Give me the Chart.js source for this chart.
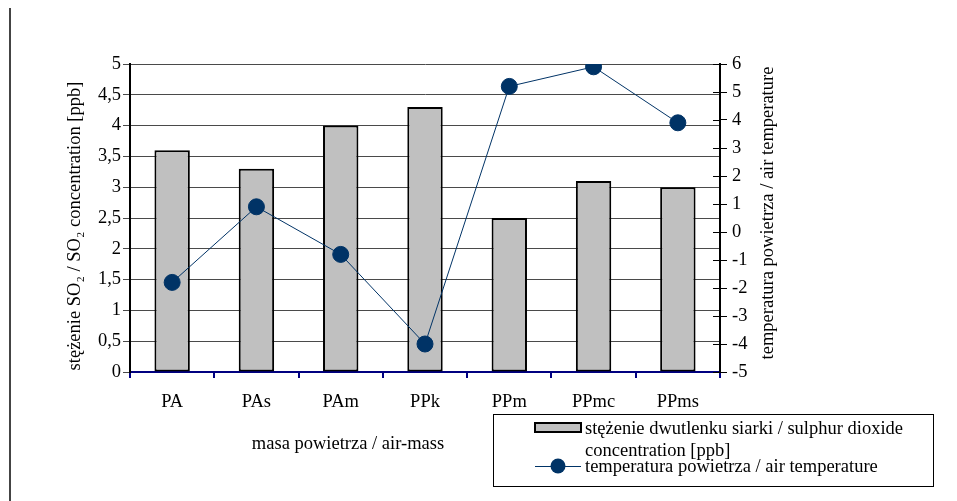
<!DOCTYPE html>
<html>
<head>
<meta charset="utf-8">
<script src="https://cdn.jsdelivr.net/npm/chart.js@4/dist/chart.umd.min.js"></script>
<style>
  html, body { margin: 0; padding: 0; background: #ffffff; }
  #wrap { width: 957px; height: 501px; position: relative; }
</style>
</head>
<body>
<div id="wrap"><canvas id="c" width="957" height="501"></canvas></div>
<script>
const categories = ['PA', 'PAs', 'PAm', 'PPk', 'PPm', 'PPmc', 'PPms'];
const so2Values = [3.6, 3.3, 4.0, 4.3, 2.5, 3.1, 3.0];
const tempValues = [-1.8, 0.9, -0.8, -4.0, 5.2, 5.9, 3.9];
const leftTickLabels = ['0', '0,5', '1', '1,5', '2', '2,5', '3', '3,5', '4', '4,5', '5'];
const rightTickLabels = ['-5', '-4', '-3', '-2', '-1', '0', '1', '2', '3', '4', '5', '6'];
const so2Label = 'stężenie dwutlenku siarki / sulphur dioxide concentration [ppb]';
const so2LegendLines = ['stężenie dwutlenku siarki / sulphur dioxide', 'concentration [ppb]'];
const tempLabel = 'temperatura powietrza / air temperature';
const xTitle = 'masa powietrza / air-mass';
const yTitle = 'stężenie SO₂ / SO₂ concentration [ppb]';
const y1Title = 'temperatura powietrza / air temperature';

const FONT = '"Liberation Serif", "Times New Roman", serif';
const NAVY = '#003366';

const extras = {
  id: 'extras',
  afterDraw(chart) {
    const ctx = chart.ctx;
    const y1 = chart.scales.y1;
    ctx.save();
    // left frame line
    ctx.strokeStyle = '#444444';
    ctx.lineWidth = 2;
    ctx.beginPath();
    ctx.moveTo(10, 8);
    ctx.lineTo(10, 501);
    ctx.stroke();
    // inward ticks on right axis
    ctx.strokeStyle = '#000';
    ctx.lineWidth = 1;
    y1.ticks.forEach(t => {
      const py = Math.round(y1.getPixelForValue(t.value)) + 0.5;
      ctx.beginPath();
      ctx.moveTo(y1.left - 7, py);
      ctx.lineTo(y1.left, py);
      ctx.stroke();
    });
    // axis titles
    ctx.fillStyle = '#000';
    ctx.font = '18.5px ' + FONT;
    ctx.textAlign = 'center';
    ctx.textBaseline = 'middle';
    ctx.fillText(xTitle, 348, 444);
    ctx.save();
    ctx.translate(75, 226);
    ctx.rotate(-Math.PI / 2);
    ctx.fillText(yTitle, 0, 0);
    ctx.restore();
    ctx.save();
    ctx.translate(768, 213);
    ctx.rotate(-Math.PI / 2);
    ctx.fillText(y1Title, 0, 0);
    ctx.restore();
    // legend box
    ctx.strokeStyle = '#000';
    ctx.lineWidth = 1;
    ctx.strokeRect(493.5, 414.5, 440, 72);
    // bar swatch
    ctx.fillStyle = '#c0c0c0';
    ctx.fillRect(535, 423, 46, 9);
    ctx.lineWidth = 2;
    ctx.strokeRect(535, 423, 46, 9);
    // line swatch
    ctx.strokeStyle = NAVY;
    ctx.lineWidth = 1;
    ctx.beginPath();
    ctx.moveTo(535, 466.5);
    ctx.lineTo(581, 466.5);
    ctx.stroke();
    ctx.fillStyle = NAVY;
    ctx.beginPath();
    ctx.arc(558, 466, 7.5, 0, Math.PI * 2);
    ctx.fill();
    // legend texts
    ctx.fillStyle = '#000';
    ctx.textAlign = 'left';
    ctx.fillText(so2LegendLines[0], 585, 429);
    ctx.fillText(so2LegendLines[1], 585, 451);
    ctx.fillText(tempLabel, 585, 467);
    ctx.restore();
  }
};

new Chart(document.getElementById('c'), {
  data: {
    labels: categories,
    datasets: [
      {
        type: 'line',
        label: tempLabel,
        data: tempValues,
        yAxisID: 'y1',
        borderColor: NAVY,
        borderWidth: 1,
        backgroundColor: NAVY,
        pointBackgroundColor: NAVY,
        pointBorderColor: NAVY,
        pointBorderWidth: 1,
        pointRadius: 8,
        tension: 0,
        order: 0
      },
      {
        type: 'bar',
        label: so2Label,
        data: so2Values,
        yAxisID: 'y',
        backgroundColor: '#c0c0c0',
        borderColor: '#000000',
        borderWidth: 2,
        borderSkipped: false,
        categoryPercentage: 1,
        barPercentage: 0.42,
        order: 1
      }
    ]
  },
  options: {
    responsive: false,
    animation: false,
    devicePixelRatio: 1,
    layout: { padding: { top: 64, left: 0, right: 0, bottom: 0 } },
    plugins: { legend: { display: false }, tooltip: { enabled: false } },
    scales: {
      x: {
        position: 'bottom',
        afterFit: s => { s.height = 129; },
        grid: { drawOnChartArea: false, drawTicks: true, tickLength: 6, color: '#000080', lineWidth: 2, offset: true },
        border: { color: '#000080', width: 2 },
        ticks: { color: '#000', font: { family: FONT, size: 18.5 }, padding: 13, maxRotation: 0 }
      },
      y: {
        position: 'left',
        min: 0, max: 5,
        afterFit: s => { s.width = 130; },
        ticks: {
          stepSize: 0.5,
          color: '#000',
          font: { family: FONT, size: 18.5 },
          padding: 2,
          callback: (v, i) => leftTickLabels[i]
        },
        grid: { color: '#4a4a4a', lineWidth: 1, tickLength: 7 },
        border: { color: '#000', width: 2 }
      },
      y1: {
        position: 'right',
        min: -5, max: 6,
        afterFit: s => { s.width = 237; },
        ticks: {
          stepSize: 1,
          color: '#000',
          font: { family: FONT, size: 18.5 },
          padding: 5,
          callback: (v, i) => rightTickLabels[i]
        },
        grid: { drawOnChartArea: false, color: '#000', tickLength: 7 },
        border: { color: '#000', width: 2 }
      }
    }
  },
  plugins: [extras]
});
</script>
</body>
</html>
